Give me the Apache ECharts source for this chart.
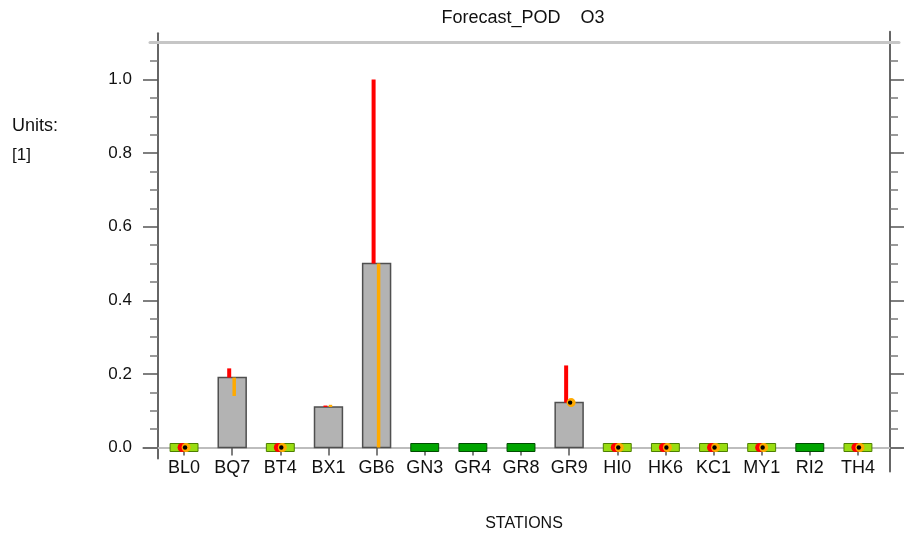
<!DOCTYPE html>
<html><head><meta charset="utf-8">
<script src="https://cdn.jsdelivr.net/npm/echarts@6/dist/echarts.min.js"></script>
<style>html,body{margin:0;padding:0;background:#fff}#c{width:904px;height:540px}</style>
</head><body><div id="c"></div>
<script>
// ---- data ----
const categories  = ['BL0','BQ7','BT4','BX1','GB6','GN3','GR4','GR8','GR9','HI0','HK6','KC1','MY1','RI2','TH4'];
const barValues   = [0, 0.19, 0, 0.11, 0.50, 0, 0, 0, 0.122, 0, 0, 0, 0, 0, 0];
const redEnds     = [0, 0.215, 0, 0.114, 1.00, 0, 0, 0, 0.223, 0, 0, 0, 0, 0, 0];
const orangeEnds  = [0, 0.14, 0, 0.116, 0.00, 0, 0, 0, 0.122, 0, 0, 0, 0, 0, 0];
const hasForecast = [1, 1, 1, 1, 1, 0, 0, 0, 1, 1, 1, 1, 1, 0, 1];
const majorTicks  = [0, 0.2, 0.4, 0.6, 0.8, 1.0];
const minorTicks  = [0.05,0.1,0.15,0.25,0.3,0.35,0.45,0.5,0.55,0.65,0.7,0.75,0.85,0.9,0.95,1.05];

// ---- layout helpers ----
const ZERO_Y = 447.5, PPU = 368;
function vgrid(left, right, vmin, vmax) {
  return { left: left, right: right, top: ZERO_Y - vmax * PPU, height: (vmax - vmin) * PPU,
           containLabel: false, outerBoundsMode: 'none' };
}
const FONT = 'Liberation Sans, Arial, sans-serif';
const txt = { fontFamily: FONT, fontSize: 17, color: '#111' };
const big = { fontFamily: FONT, fontSize: 18, color: '#111' };
const AX = '#666';

const ranges = [[0, 1.1], [-0.03, 1.126], [-0.065, 1.13], [0, 1.1], [0, 1.1]];
const grids = ranges.map((r, k) => vgrid([160, 158, 158, 150, 143][k], [22, 14, 14, 5, 0][k], r[0], r[1]));

const hidden = { show: false };
const xAxes = [
  { type: 'category', gridIndex: 0, data: categories, boundaryGap: true,
    axisLine: { show: false },
    axisTick: { show: true, alignWithLabel: true, length: 8, lineStyle: { color: '#555', width: 1.5 } },
    axisLabel: Object.assign({ margin: 12 }, big),
    splitLine: hidden },
  { type: 'value', gridIndex: 1, show: false },
  { type: 'value', gridIndex: 2, show: false },
  { type: 'value', gridIndex: 3, position: 'top', min: 0, max: 1,
    axisLine: { show: true, onZero: false, lineStyle: { color: '#c6c6c6', width: 3 } },
    axisTick: hidden, axisLabel: hidden, splitLine: hidden },
  { type: 'value', gridIndex: 4, position: 'bottom', min: 0, max: 1,
    axisLine: { show: true, onZero: false, lineStyle: { color: '#bdbdbd', width: 2 } },
    axisTick: hidden, axisLabel: hidden, splitLine: hidden }
];

function tickAxis(grid, pos, vals, len, showLine, labels) {
  return {
    type: 'value', gridIndex: grid, position: pos, offset: 0,
    min: ranges[grid][0], max: ranges[grid][1],
    axisLine: { show: showLine, onZero: false, lineStyle: { color: AX, width: 2 } },
    axisTick: { show: true, customValues: vals, length: len, inside: false,
                lineStyle: { color: len > 10 ? '#555' : '#7a7a7a', width: 1.5 } },
    axisLabel: labels ? Object.assign({ show: true, customValues: vals, margin: 26,
                 formatter: v => Number(v).toFixed(1) }, txt) : { show: false },
    splitLine: hidden
  };
}

const yAxes = [
  { type: 'value', gridIndex: 0, min: 0, max: 1.1, show: false },
  tickAxis(1, 'left', majorTicks, 15, true, true),
  tickAxis(1, 'left', minorTicks, 8, false, false),
  tickAxis(2, 'right', majorTicks, 14, true, false),
  tickAxis(2, 'right', minorTicks, 8, false, false),
  { type: 'value', gridIndex: 3, min: 0, max: 1.1, show: false },
  { type: 'value', gridIndex: 4, min: 0, max: 1.1, show: false }
];

const seriesData = categories.map((c, i) => [i, barValues[i], redEnds[i], orangeEnds[i], hasForecast[i]]);

function renderItem(params, api) {
  const i = api.value(0), v = api.value(1), hi = api.value(2), lo = api.value(3), fc = api.value(4);
  const base = api.coord([i, 0]);
  const top = api.coord([i, v]);
  const bw = api.size([1, 0])[0] * 0.58;
  const cx = base[0];
  const ch = [];
  if (v > 0) {
    ch.push({ type: 'rect', shape: { x: cx - bw / 2, y: top[1], width: bw, height: base[1] - top[1] },
      style: { fill: '#b3b3b3', stroke: '#4f4f4f', lineWidth: 1.5 } });
  } else {
    ch.push({ type: 'rect', shape: { x: cx - bw / 2, y: base[1] - 4, width: bw, height: 8 },
      style: fc ? { fill: '#99dd11', stroke: '#4d7f00', lineWidth: 1 }
                : { fill: '#00a400', stroke: '#004d00', lineWidth: 1 } });
  }
  if (fc) {
    if (hi !== v) {
      const p = api.coord([i, hi]);
      ch.push({ type: 'line', shape: { x1: cx - 3, y1: top[1], x2: cx - 3, y2: p[1] },
        style: { stroke: '#ff0000', lineWidth: 4 } });
    } else {
      ch.push({ type: 'circle', shape: { cx: cx - 2, cy: top[1], r: 4.5 }, style: { fill: '#ff0000' } });
    }
    if (lo !== v) {
      const p = api.coord([i, lo]);
      ch.push({ type: 'line', shape: { x1: cx + 2, y1: top[1], x2: cx + 2, y2: p[1] },
        style: { stroke: '#ffaa00', lineWidth: 3.5 } });
    } else {
      ch.push({ type: 'circle', shape: { cx: cx + 2, cy: top[1], r: 4.5 }, style: { fill: '#ffaa00' } });
      ch.push({ type: 'circle', shape: { cx: cx + 1, cy: top[1], r: 2.2 }, style: { fill: '#000' } });
    }
  }
  return { type: 'group', children: ch };
}

function label(text, x, y, align, font) {
  return { type: 'text', x: x, y: y,
    style: { text: text, align: align, verticalAlign: 'middle', font: font + 'px ' + FONT, fill: '#111' } };
}

const chart = echarts.init(document.getElementById('c'), null, { renderer: 'canvas' });
chart.setOption({
  animation: false,
  backgroundColor: '#fff',
  grid: grids,
  xAxis: xAxes,
  yAxis: yAxes,
  graphic: [
    label('Forecast_POD    O3', 523, 18, 'center', 18),
    label('Units:', 12, 126, 'left', 18),
    label('[1]', 12, 155, 'left', 17),
    label('STATIONS', 524, 524, 'center', 16)
  ],
  series: [{
    type: 'custom', xAxisIndex: 0, yAxisIndex: 0, clip: false,
    renderItem: renderItem, data: seriesData, z: 5
  }]
});
</script></body></html>
